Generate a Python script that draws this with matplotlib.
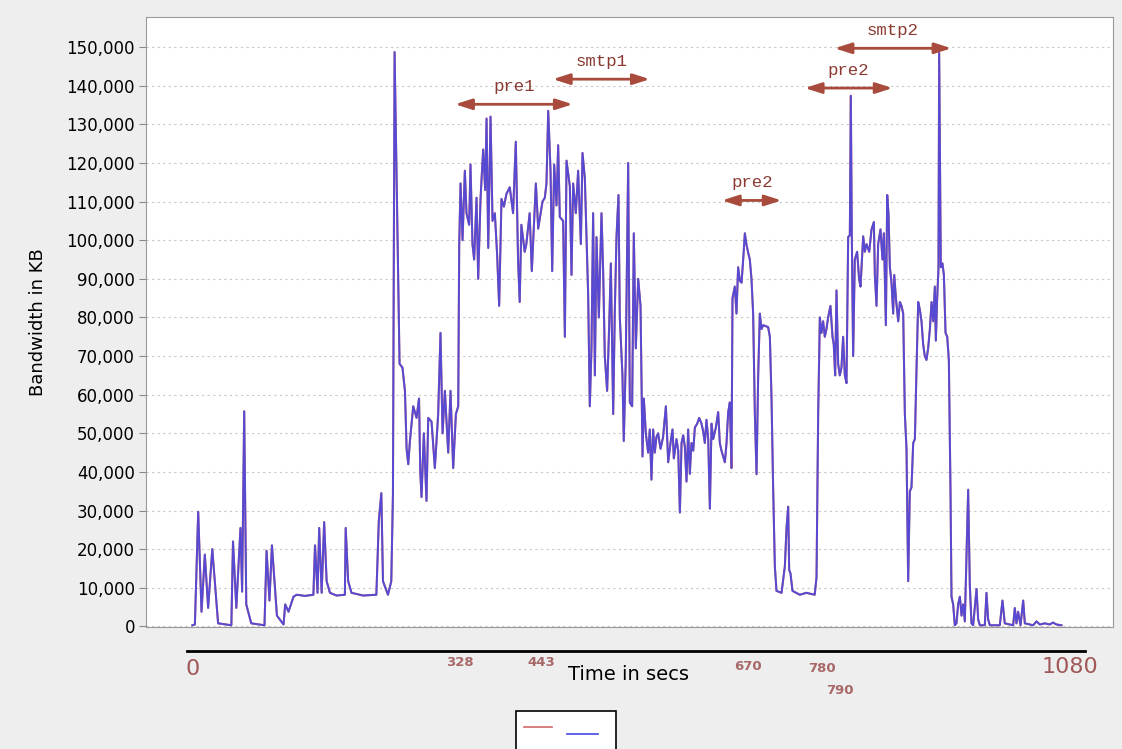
import matplotlib
matplotlib.use("Agg")
import matplotlib.pyplot as plt
import matplotlib.transforms as mtransforms
from matplotlib.patches import Rectangle
from matplotlib.lines import Line2D
from matplotlib.ticker import FuncFormatter, MultipleLocator

# bandwidth trace, seconds since start vs KB
SECS = [3, 6, 10, 14, 18, 22, 27, 34, 50, 52, 56, 61, 63, 65.5, 68, 74, 90, 92.5, 96, 99,
        105, 113, 115, 119, 125, 129, 139, 149, 151, 154, 156, 159, 162, 165, 169, 177, 187, 188, 191, 195,
        209, 225, 228, 231, 233, 239, 243, 245, 247, 253, 256.5, 259.5, 261.5, 263.5, 265.5, 269.5, 273.5, 276.5, 278, 279.5,
        282.3, 285.5, 287.6, 291.6, 295.6, 299.6, 302.4, 304.9, 307.7, 311.7, 314.5, 317.7, 321, 323.8, 325, 326.6, 329, 331.8, 333.8, 337,
        338.6, 341, 343, 345.9, 347.9, 350.7, 353.9, 356.3, 358, 360, 362.8, 365.2, 368, 370.8, 373.2, 376, 378.9, 382, 386, 390,
        393.3, 396, 398, 400, 404, 406, 410, 412.6, 417.5, 420.3, 425.5, 428.3, 430.3, 432.4, 435.2, 437.2, 439.6, 442.4, 444.4, 446.4,
        450.4, 452.5, 454.5, 458.5, 460.5, 462.5, 465.7, 468.5, 471.8, 473.8, 476.6, 480.6, 482.6, 484.6, 486.6, 488.7, 490.7, 493.5, 496.7, 498.7,
        500.7, 503.5, 506, 508, 510.8, 512.8, 514.8, 517.2, 518.8, 522, 523.6, 526, 528.9, 530.9, 533.7, 535.7, 538.1, 541, 543.8, 546.2,
        547.8, 550.2, 553, 555, 557, 559, 561, 563, 565, 568, 571, 574.4, 577.2, 580, 582.4, 584, 587.2, 589.3, 591.3, 593.3,
        595.3, 597.3, 599.3, 601.3, 603.3, 605.3, 607.4, 609.4, 612.2, 614.6, 617.4, 619.4, 621.4, 623.4, 625.5, 627.5, 629.5, 631.5, 634.7, 637.5,
        639.5, 641.5, 645.6, 647.6, 649.6, 651.6, 653.6, 654.8, 657.6, 659.6, 661.6, 663.7, 665.7, 667.7, 669.7, 671.7, 673.7, 675.7, 677.7, 679.7,
        681.8, 683.8, 685.8, 687.8, 689.8, 691.8, 697.8, 699.9, 701.9, 703.9, 705.9, 707.9, 714, 718, 720, 722, 723.2, 724.8, 727.2, 736,
        744, 754, 756.2, 758.2, 760.2, 762.2, 764.2, 766.2, 768.2, 770.2, 773, 775.5, 777, 778.7, 780.3, 782.3, 784.3, 786.3, 788.3, 790.4,
        792.4, 794.4, 796.4, 797.6, 798.8, 800.4, 802.4, 805.2, 807.6, 809.3, 812.5, 814.5, 816.5, 819.8, 822.6, 825.4, 826.6, 828.6, 830.6, 833.4,
        835.8, 837.5, 839.9, 841.5, 843.1, 844.7, 846.7, 848.7, 850, 852, 854.8, 856.8, 858.8, 860.8, 862.8, 864.8, 866.8, 868.8, 870.8, 872.9,
        874.9, 876.9, 878.9, 880.9, 882.9, 884.9, 886.9, 888.9, 890.9, 893, 895, 897, 899, 900.2, 901.8, 903.4, 904.2, 906.2, 908.2, 909.9,
        911.9, 913.9, 915.9, 917.9, 919.1, 921.1, 923.1, 925.1, 927.1, 929.2, 931.2, 933.2, 935.2, 937.2, 939.2, 941.2, 943.2, 945.2, 949.3, 951.3,
        953.3, 959.3, 961.3, 963.3, 965.4, 977.4, 980.6, 983.4, 993.5, 995.5, 997.5, 999.5, 1002.4, 1005.6, 1007.6, 1017.6, 1021.7, 1025.7, 1031.7, 1037.7,
        1041.7, 1045.7, 1051.8]
KB = [300, 500, 29700, 3800, 18600, 4800, 20000, 800, 300, 22000, 4800, 25500, 9000, 55700, 5700, 800, 300, 19600, 6700, 21000,
      2800, 500, 5700, 3800, 7700, 8200, 7900, 8200, 21000, 8700, 25500, 8700, 27000, 11700, 8700, 8000, 8200, 25500, 11700, 8700,
      8000, 8200, 27500, 34500, 11700, 8200, 11700, 34000, 148700, 68000, 67000, 61000, 46000, 42000, 48000, 57000, 54000, 59000, 40000, 33500,
      50000, 32500, 54000, 53000, 41000, 55000, 76000, 50000, 61000, 45000, 61000, 41000, 55000, 57000, 99000, 114700, 100000, 118000, 107000, 104000,
      119600, 99000, 95000, 111000, 90000, 110700, 123500, 113000, 131500, 98000, 132000, 105000, 107000, 96000, 83000, 110700, 108700, 112000, 113700, 107000,
      125500, 95000, 84000, 104000, 97000, 99000, 107000, 92000, 114700, 103000, 110000, 111000, 114700, 133500, 118000, 92000, 119600, 109000, 124600, 106000,
      105000, 75000, 120600, 114000, 91000, 114700, 107000, 118000, 99000, 122600, 116000, 86000, 57000, 72000, 107000, 65000, 100800, 80000, 107000, 92000,
      70000, 61000, 78000, 94000, 55000, 82000, 100800, 111700, 80000, 65000, 48000, 69000, 120000, 58000, 57000, 101800, 72000, 90000, 83000, 44000,
      59000, 50000, 45000, 51000, 38000, 51000, 45000, 49000, 50000, 46000, 49000, 57000, 42500, 47500, 51000, 43500, 48500, 45500, 29500, 47500,
      49500, 46500, 37500, 51000, 39500, 47500, 45500, 51500, 52500, 54000, 52500, 50500, 47500, 53500, 48500, 30500, 52500, 48500, 51500, 55500,
      47500, 45500, 42500, 47500, 55500, 58000, 41000, 85000, 88000, 81000, 93000, 89500, 89000, 95000, 101800, 98800, 96800, 95000, 90000, 81000,
      55000, 39400, 65000, 81000, 77000, 78000, 77500, 75000, 59000, 35400, 15600, 9200, 8700, 15600, 25500, 31000, 14600, 13700, 9200, 8200,
      8700, 8200, 12700, 55000, 80000, 76000, 79000, 75000, 77000, 80000, 83000, 75000, 73000, 65000, 87000, 68000, 65000, 67000, 75000, 65000,
      63000, 100800, 101300, 137400, 101000, 70000, 95000, 97000, 90000, 88000, 101000, 97000, 99000, 97000, 102800, 104700, 91000, 83000, 99000, 102800,
      95000, 101800, 78000, 111700, 106700, 93000, 89000, 81000, 91000, 85000, 79000, 84000, 83000, 81000, 55000, 46000, 11700, 35000, 36000, 47500,
      48500, 67000, 84000, 82000, 79000, 73000, 70000, 69000, 72000, 77000, 84000, 79000, 88000, 74000, 85000, 92700, 148500, 93000, 94000, 91000,
      76000, 75000, 69000, 35000, 7700, 5700, 300, 800, 5700, 7700, 2800, 5700, 1300, 18600, 35400, 10700, 800, 300, 9700, 1800,
      300, 300, 8700, 1800, 300, 300, 6700, 800, 300, 4750, 800, 3800, 300, 6700, 800, 300, 1300, 500, 800, 500,
      1000, 500, 300]

# protocol phases marked above the trace
PHASES = ["pre1", "smtp1", "pre2", "pre2", "smtp2"]
PHASE_START = [320, 438, 642, 742, 778]
PHASE_END = [462, 555, 714, 848, 919]
PHASE_LEVEL = [135200, 141700, 110300, 139400, 149700]

# time marks under the plot
MARKS = ["328", "443", "670", "780", "790"]

RED = "#d06868"
BLUE = "#4646e2"
ARROW = "#a84a3c"
TXT = "#8a3a32"

fig = plt.figure(figsize=(11.22, 7.49), dpi=100, facecolor="#eeeeee")
ax = fig.add_axes([146 / 1122, 1 - 627 / 749, 967 / 1122, 610 / 749])
ax.set_facecolor("white")

ax.plot(SECS, KB, color=RED, lw=1.5)
ax.plot(SECS, KB, color=BLUE, lw=1.4, alpha=0.88)

ax.set_xlim(-53, 1114)
ax.set_ylim(-150, 157800)
ax.yaxis.set_major_locator(MultipleLocator(10000))
ax.yaxis.set_major_formatter(FuncFormatter(lambda v, _: f"{v:,.0f}"))
ax.set_xticks([])
ax.tick_params(axis="y", labelsize=12, length=5, color="#888888", pad=3)
ax.grid(axis="y", color="#c8c8c8", lw=0.8, ls=(0, (2, 3)))
for s in ax.spines.values():
    s.set_color("#999999")
ax.set_ylabel("Bandwidth in KB", fontsize=13, labelpad=14)

# phase arrows + labels
for name, a, b, lvl in zip(PHASES, PHASE_START, PHASE_END, PHASE_LEVEL):
    ax.annotate("", xy=(b, lvl), xytext=(a, lvl),
                arrowprops=dict(arrowstyle="<|-|>,head_length=1.0,head_width=0.32",
                                color=ARROW, lw=2.0, shrinkA=0, shrinkB=0))
    ax.text((a + b) / 2, lvl + 2600, name, family="Liberation Mono", fontsize=12.5,
            color=TXT, ha="center", va="bottom")

# separate time line below the chart
tr = mtransforms.blended_transform_factory(ax.transData, fig.transFigure)
ax.plot([-4, 1080], [1 - 651 / 749] * 2, color="black", lw=2, transform=tr, clip_on=False)
fig.text(193 / 1122, 1 - 669 / 749, "0", fontsize=16, color="#a05858", ha="center", va="center")
fig.text(1070 / 1122, 1 - 667 / 749, "1080", fontsize=16, color="#a05858", ha="center", va="center")
mark_xy = [(460, 663), (541, 663), (748, 667), (822, 669), (840, 691)]
for lab, (px, py) in zip(MARKS, mark_xy):
    fig.text(px / 1122, 1 - py / 749, lab, fontsize=9.5, fontweight="bold",
             color="#a86868", ha="center", va="center")
fig.text(629 / 1122, 1 - 675 / 749, "Time in secs", fontsize=14, ha="center", va="center")

# legend box, cut by the bottom edge
fig.patches.append(Rectangle((516 / 1122, -0.01), 100 / 1122, 0.01 + 1 - 711 / 749,
                             transform=fig.transFigure, facecolor="white",
                             edgecolor="black", lw=1.2))
fig.lines.append(Line2D([524 / 1122, 552 / 1122], [1 - 727 / 749] * 2,
                        transform=fig.transFigure, color=RED, lw=1.2))
fig.lines.append(Line2D([567 / 1122, 598 / 1122], [1 - 734 / 749] * 2,
                        transform=fig.transFigure, color=BLUE, lw=1.2))

fig.savefig("out.png", dpi=100, facecolor=fig.get_facecolor())
